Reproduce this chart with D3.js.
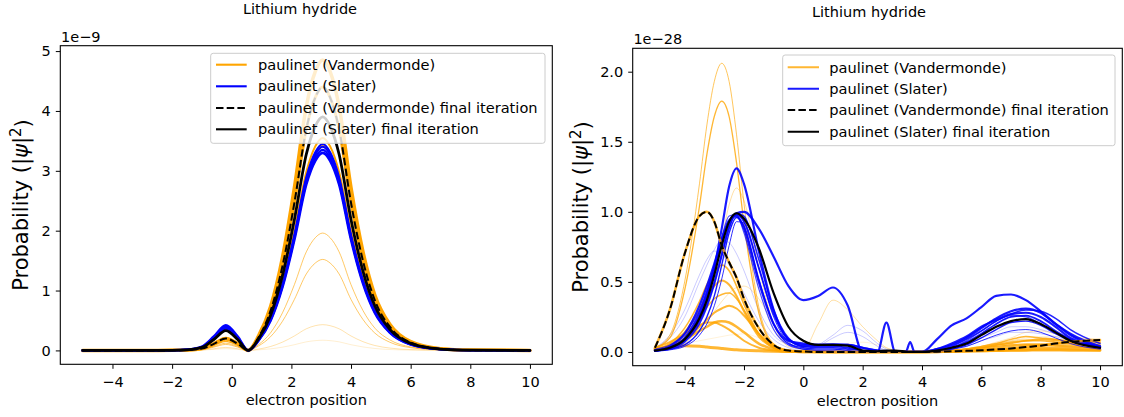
<!DOCTYPE html>
<html>
<head>
<meta charset="utf-8">
<script src="https://cdn.jsdelivr.net/npm/d3@7"></script>
<style>
body{margin:0;background:#fff;}
svg{display:block;font-family:"DejaVu Sans",sans-serif;}
</style>
</head>
<body>
<div id="chart"></div>
<script>
// ---- left panel data (values in units of 1e-9) ----
var xLeft = [-5, -3, -2, -1.5, -1, -0.6, -0.2, 0.2, 0.55, 0.9, 1.3, 1.7, 2.1, 2.5, 2.8, 3.05, 3.3, 3.6, 4.0, 4.4, 4.8, 5.3, 6, 7, 8, 10];

var leftVdm1 = [0,0,0,0.001,0.005,0.017,0.03,0.017,0,0.009,0.026,0.054,0.095,0.143,0.163,0.17,0.163,0.143,0.095,0.058,0.032,0.015,0.005,0.001,0,0];
var leftVdm2 = [0,0,0,0.002,0.008,0.028,0.05,0.028,0,0.022,0.065,0.138,0.241,0.361,0.413,0.43,0.413,0.361,0.241,0.146,0.082,0.039,0.013,0.003,0,0];
var leftVdm3 = [0,0,0,0.003,0.015,0.055,0.1,0.055,0,0.076,0.228,0.486,0.851,1.277,1.459,1.52,1.459,1.277,0.851,0.517,0.289,0.137,0.046,0.009,0.002,0];
var leftVdm4 = [0,0,0.001,0.004,0.018,0.066,0.12,0.066,0,0.098,0.294,0.627,1.098,1.646,1.882,1.96,1.882,1.646,1.098,0.666,0.372,0.176,0.059,0.012,0.002,0];
var leftVdm5 = [0,0,0.001,0.005,0.023,0.083,0.15,0.083,0,0.165,0.495,1.056,1.848,2.772,3.168,3.3,3.168,2.772,1.848,1.122,0.627,0.297,0.099,0.02,0.003,0];
var leftVdm6 = [0,0,0.001,0.005,0.027,0.099,0.18,0.099,0,0.171,0.513,1.094,1.915,2.873,3.283,3.42,3.283,2.873,1.915,1.163,0.65,0.308,0.103,0.021,0.003,0];
var leftVdm7 = [0,0,0.001,0.006,0.03,0.11,0.2,0.11,0,0.178,0.533,1.136,1.988,2.982,3.408,3.55,3.408,2.982,1.988,1.207,0.675,0.32,0.107,0.021,0.004,0];
var leftVdm8 = [0,0,0.001,0.006,0.03,0.11,0.2,0.11,0,0.243,0.728,1.552,2.716,4.074,4.656,4.85,4.656,4.074,2.716,1.649,0.922,0.437,0.146,0.029,0.005,0];
var leftVdmFinal = [0,0,0.001,0.006,0.03,0.11,0.2,0.11,0,0.22,0.66,1.408,2.464,3.696,4.224,4.4,4.224,3.696,2.464,1.496,0.836,0.396,0.132,0.026,0.004,0];
var leftSl1 = [0,0,0.002,0.013,0.063,0.231,0.42,0.231,0,0.165,0.495,1.056,1.848,2.772,3.168,3.3,3.168,2.772,1.848,1.122,0.627,0.297,0.099,0.02,0.003,0];
var leftSl2 = [0,0,0.002,0.011,0.057,0.209,0.38,0.209,0,0.168,0.503,1.072,1.876,2.814,3.216,3.35,3.216,2.814,1.876,1.139,0.637,0.302,0.101,0.02,0.003,0];
var leftSl3 = [0,0,0.002,0.012,0.06,0.22,0.4,0.22,0,0.17,0.51,1.088,1.904,2.856,3.264,3.4,3.264,2.856,1.904,1.156,0.646,0.306,0.102,0.02,0.003,0];
var leftSl4 = [0,0,0.002,0.011,0.054,0.198,0.36,0.198,0,0.173,0.518,1.104,1.932,2.898,3.312,3.45,3.312,2.898,1.932,1.173,0.656,0.311,0.104,0.021,0.003,0];
var leftSlFinal = [0,0,0.002,0.01,0.05,0.182,0.33,0.182,0,0.195,0.585,1.248,2.184,3.276,3.744,3.9,3.744,3.276,2.184,1.326,0.741,0.351,0.117,0.023,0.004,0];

// ---- right panel data (values in units of 1e-28) ----
var xRight = [-5,-4.5,-4,-3.5,-3.25,-3,-2.75,-2.5,-2.25,-2,-1.5,-1,-0.5,0,0.5,1,1.5,2,2.5,2.8,3.1,3.45,3.6,3.75,4,4.5,5,5.5,6,6.5,7,7.5,8,8.5,9,10];

var rightVdm1 = [0.03,0.12,0.5,1.2,1.62,1.93,2.06,1.93,1.55,1.06,0.32,0.06,0.01,0,0,0,0,0,0,0,0,0,0,0,0,0.005,0.01,0.02,0.03,0.04,0.05,0.06,0.06,0.06,0.06,0.05];
var rightVdm2 = [0.03,0.1,0.44,1.04,1.41,1.68,1.79,1.68,1.35,0.92,0.28,0.05,0.01,0,0,0,0,0,0,0,0,0,0,0,0,0.005,0.01,0.02,0.03,0.04,0.05,0.05,0.05,0.05,0.05,0.04];
var rightVdm3 = [0.01,0.02,0.06,0.2,0.35,0.55,0.8,1.05,1.17,1.08,0.6,0.2,0.04,0.02,0.2,0.37,0.3,0.18,0.08,0.03,0.01,0,0,0,0,0.005,0.01,0.02,0.04,0.06,0.08,0.09,0.09,0.08,0.07,0.06];
var rightVdm4 = [0.02,0.06,0.17,0.36,0.48,0.57,0.62,0.58,0.47,0.34,0.13,0.03,0.005,0,0,0,0,0,0,0,0,0,0,0,0,0.005,0.01,0.02,0.03,0.05,0.06,0.08,0.08,0.07,0.06,0.04];
var rightVdm5 = [0.02,0.05,0.14,0.3,0.4,0.47,0.51,0.48,0.4,0.29,0.11,0.03,0.005,0,0,0,0,0,0,0,0,0,0,0,0,0.003,0.008,0.012,0.02,0.03,0.04,0.05,0.05,0.045,0.04,0.03];
var rightVdm6 = [0.01,0.03,0.08,0.16,0.22,0.29,0.36,0.42,0.46,0.47,0.38,0.2,0.07,0.02,0.01,0.005,0,0,0,0,0,0,0,0,0,0.005,0.01,0.02,0.04,0.07,0.1,0.14,0.15,0.13,0.11,0.09];
var rightVdm7 = [0.02,0.04,0.12,0.25,0.32,0.38,0.41,0.42,0.38,0.3,0.13,0.04,0.01,0,0,0,0,0,0,0,0,0,0,0,0,0.005,0.01,0.02,0.04,0.06,0.09,0.11,0.1,0.09,0.07,0.05];
var rightVdm8 = [0.02,0.04,0.09,0.18,0.23,0.28,0.31,0.33,0.31,0.26,0.13,0.04,0.01,0,0,0,0,0,0,0,0,0,0,0,0,0.005,0.01,0.02,0.03,0.05,0.07,0.08,0.09,0.085,0.08,0.07];
var rightVdm9 = [0.02,0.04,0.09,0.15,0.18,0.21,0.22,0.21,0.18,0.14,0.06,0.02,0.005,0,0,0,0,0,0,0,0,0,0,0,0,0,0.005,0.008,0.01,0.015,0.02,0.025,0.03,0.03,0.03,0.02];
var rightVdm10 = [0.03,0.07,0.13,0.19,0.21,0.21,0.19,0.16,0.12,0.08,0.03,0.01,0,0,0,0,0,0,0,0,0,0,0,0,0,0,0.003,0.004,0.005,0.008,0.01,0.012,0.015,0.015,0.015,0.01];
var rightVdm11 = [0.02,0.035,0.045,0.04,0.035,0.03,0.025,0.02,0.015,0.012,0.008,0.005,0.003,0.002,0.001,0,0,0,0,0,0,0,0,0,0,0.002,0.004,0.006,0.008,0.01,0.012,0.013,0.014,0.014,0.013,0.012];
var rightVdm12 = [0.02,0.04,0.06,0.08,0.09,0.1,0.11,0.12,0.125,0.13,0.1,0.05,0.01,0,0,0.02,0.06,0.07,0.05,0.03,0.01,0,0,0,0,0.005,0.01,0.02,0.04,0.06,0.08,0.1,0.11,0.11,0.1,0.09];
var rightVdmFinal = [0.03,0.3,0.7,0.97,1.0,0.93,0.76,0.64,0.53,0.38,0.17,0.05,0.01,0.003,0,0,0,0,0,0,0,0,0,0,0,0.002,0.005,0.008,0.012,0.018,0.025,0.035,0.045,0.06,0.072,0.085];

var rightSl1 = [0.01,0.04,0.13,0.33,0.47,0.63,0.8,0.93,0.99,1.0,0.88,0.68,0.47,0.37,0.4,0.46,0.33,0,0,0.21,0,0,0.07,0,0,0.09,0.19,0.24,0.32,0.4,0.41,0.37,0.29,0.2,0.12,0.03];
var rightSl2 = [0.01,0.03,0.09,0.25,0.4,0.6,0.88,1.18,1.31,1.2,0.72,0.3,0.09,0.05,0.05,0.05,0.05,0.03,0.01,0,0,0,0,0,0,0.02,0.05,0.1,0.17,0.24,0.29,0.31,0.28,0.2,0.13,0.04];
var rightSl3 = [0.01,0.03,0.08,0.22,0.34,0.5,0.7,0.9,0.98,0.93,0.6,0.27,0.09,0.04,0.04,0.04,0.03,0.01,0,0,0,0,0,0,0,0.01,0.03,0.07,0.13,0.2,0.25,0.26,0.22,0.15,0.09,0.03];
var rightSl4 = [0.005,0.02,0.05,0.15,0.25,0.4,0.62,0.85,0.96,0.9,0.52,0.2,0.06,0.03,0.02,0.02,0.01,0,0,0,0,0,0,0,0,0,0.02,0.05,0.1,0.16,0.21,0.22,0.19,0.13,0.08,0.03];
var rightSl5 = [0.02,0.05,0.13,0.3,0.44,0.62,0.82,0.97,0.98,0.85,0.45,0.16,0.05,0.02,0.01,0.01,0,0,0,0,0,0,0,0,0,0,0.03,0.08,0.15,0.22,0.26,0.25,0.2,0.14,0.08,0.04];
var rightSl6 = [0.005,0.015,0.04,0.12,0.2,0.33,0.52,0.76,0.93,0.92,0.6,0.25,0.07,0.02,0.01,0,0,0,0,0,0,0,0,0,0,0,0.02,0.04,0.08,0.12,0.15,0.16,0.14,0.1,0.06,0.02];
var rightSl7 = [0.03,0.1,0.25,0.5,0.62,0.73,0.8,0.78,0.7,0.58,0.3,0.12,0.05,0.02,0.05,0.12,0.19,0.15,0.06,0.02,0,0,0,0,0,0.01,0.03,0.06,0.1,0.14,0.18,0.18,0.16,0.13,0.1,0.05];
var rightSl8 = [0.03,0.12,0.3,0.55,0.66,0.72,0.7,0.62,0.52,0.42,0.22,0.09,0.03,0.01,0.04,0.1,0.14,0.11,0.04,0.01,0,0,0,0,0,0.005,0.02,0.04,0.08,0.11,0.14,0.14,0.13,0.11,0.08,0.04];
var rightSl9 = [0.01,0.03,0.1,0.28,0.42,0.6,0.8,0.94,0.97,0.88,0.5,0.2,0.08,0.06,0.05,0.055,0.05,0.03,0.01,0.005,0.003,0,0,0,0,0.02,0.06,0.11,0.18,0.23,0.27,0.28,0.25,0.18,0.1,0.04];
var rightSl10 = [0.01,0.02,0.07,0.2,0.32,0.48,0.68,0.88,0.99,0.97,0.66,0.3,0.1,0.04,0.03,0.03,0.02,0.01,0,0,0,0,0,0,0,0.01,0.04,0.09,0.15,0.22,0.27,0.3,0.29,0.24,0.16,0.06];
var rightSlFinal = [0.01,0.03,0.09,0.24,0.37,0.55,0.76,0.93,0.99,0.95,0.74,0.42,0.18,0.08,0.05,0.05,0.045,0.01,0.005,0.01,0.01,0.003,0,0,0,0.01,0.03,0.06,0.12,0.18,0.22,0.235,0.2,0.14,0.08,0.03];

var xTicks = [-4, -2, 0, 2, 4, 6, 8, 10];
var leftYTicks = [0, 1, 2, 3, 4, 5];
var rightYTicks = [0, 0.5, 1.0, 1.5, 2.0];
var legendLabels = ["paulinet (Vandermonde)", "paulinet (Slater)", "paulinet (Vandermonde) final iteration", "paulinet (Slater) final iteration"];
var titleText = "Lithium hydride";
var xLabelText = "electron position";

var ORANGE = "#ffa500", BLUE = "#0000ff";

var svg = d3.select("#chart").append("svg")
    .attr("width", 1124)
    .attr("height", 417);

var panel = function(option) {
    var box = option.box;
    var g = svg.append("g");

    var x = d3.scaleLinear().domain([-5.75, 10.75]).range([box.left, box.right]);
    var y = d3.scaleLinear().domain(option.yDomain).range([box.bottom, box.top]);

    var line = d3.line()
        .curve(d3.curveMonotoneX)
        .x(function(d) { return x(d[0]); })
        .y(function(d) { return y(d[1]); });

    option.series.forEach(function(s) {
        g.append("path")
            .datum(option.xs.map(function(v, i) { return [v, s.values[i]]; }))
            .attr("fill", "none")
            .attr("stroke", s.color)
            .attr("stroke-opacity", s.alpha)
            .attr("stroke-width", s.width)
            .attr("stroke-dasharray", s.dash || null)
            .attr("stroke-linejoin", "round")
            .attr("stroke-linecap", s.dash ? "butt" : "round")
            .attr("d", line);
    });

    var styleAxis = function(a) {
        a.select(".domain").remove();
        a.selectAll(".tick line").attr("stroke", "#000").attr("stroke-width", 1);
        a.selectAll(".tick text")
            .attr("fill", "#000")
            .style("font-size", "14.5px")
            .style("font-family", "DejaVu Sans, sans-serif");
    };

    var xa = g.append("g")
        .attr("transform", "translate(0," + box.bottom + ")")
        .call(d3.axisBottom(x).tickValues(xTicks).tickFormat(d3.format("d")).tickSize(4.5).tickSizeOuter(0));
    styleAxis(xa);
    xa.selectAll(".tick text").attr("dy", null).attr("y", option.xTickY);

    var ya = g.append("g")
        .attr("transform", "translate(" + box.left + ",0)")
        .call(d3.axisLeft(y).tickValues(option.yTicks).tickFormat(option.yFormat).tickSize(4.5).tickPadding(5).tickSizeOuter(0));
    styleAxis(ya);

    g.append("rect")
        .attr("x", box.left).attr("y", box.top)
        .attr("width", box.right - box.left).attr("height", box.bottom - box.top)
        .attr("fill", "none").attr("stroke", "#000").attr("stroke-width", 1.1);

    // scale factor text
    g.append("text")
        .attr("x", box.left + 0.7).attr("y", box.top - 4)
        .style("font-size", "14.5px")
        .text(option.offsetText);

    g.append("text")
        .attr("x", option.titleX).attr("y", option.titleY)
        .attr("text-anchor", "middle")
        .style("font-size", "14.5px")
        .text(titleText);

    g.append("text")
        .attr("x", (box.left + box.right) / 2).attr("y", option.xLabelY)
        .attr("text-anchor", "middle")
        .style("font-size", "14.5px")
        .text(xLabelText);

    var yl = g.append("text")
        .attr("transform", "translate(" + option.yLabelX + "," + (box.top + box.bottom) / 2 + ") rotate(-90)")
        .attr("text-anchor", "middle")
        .style("font-size", "21px");
    yl.append("tspan").text("Probability (|");
    yl.append("tspan").style("font-style", "italic").text("ψ");
    yl.append("tspan").text("|");
    yl.append("tspan").attr("dy", "-0.45em").style("font-size", "15px").text("2");
    yl.append("tspan").attr("dy", "0.45em").text(")");

    // legend
    var lg = option.legend;
    var leg = g.append("g").attr("transform", "translate(" + lg.x + "," + lg.y + ")");
    leg.append("rect")
        .attr("width", lg.w).attr("height", lg.h)
        .attr("rx", 2.5)
        .attr("fill", "#fff").attr("fill-opacity", 0.8)
        .attr("stroke", "#cccccc").attr("stroke-width", 1);
    var handles = [
        {color: ORANGE, alpha: lg.orangeAlpha, dash: null},
        {color: BLUE, alpha: lg.blueAlpha, dash: null},
        {color: "#000", alpha: 1, dash: "7.5,3.2"},
        {color: "#000", alpha: 1, dash: null}
    ];
    legendLabels.forEach(function(label, i) {
        var ry = lg.rows[i];
        leg.append("line")
            .attr("x1", lg.hx0).attr("x2", lg.hx1)
            .attr("y1", ry).attr("y2", ry)
            .attr("stroke", handles[i].color)
            .attr("stroke-opacity", handles[i].alpha)
            .attr("stroke-width", 2.1)
            .attr("stroke-dasharray", handles[i].dash);
        leg.append("text")
            .attr("x", lg.tx).attr("y", ry + 5.2)
            .style("font-size", "14.6px")
            .text(label);
    });
};

var s = function(values, color, width, alpha, dash) {
    return {values: values, color: color, width: width, alpha: alpha, dash: dash};
};

panel({
    xs: xLeft,
    box: {left: 60.3, right: 552.3, top: 45.7, bottom: 364.3},
    yDomain: [-0.232, 5.09],
    yTicks: leftYTicks,
    yFormat: d3.format("d"),
    offsetText: "1e\u22129",
    titleX: 300, titleY: 13.5,
    xLabelY: 404.5, yLabelX: 27.5, xTickY: 22.5,
    series: [
        s(leftVdm1, ORANGE, 0.6, 0.3),
        s(leftVdm2, ORANGE, 0.7, 0.45),
        s(leftVdm3, ORANGE, 0.8, 0.75),
        s(leftVdm4, ORANGE, 0.8, 0.75),
        s(leftVdm5, ORANGE, 1.2, 0.9),
        s(leftVdm6, ORANGE, 1.5, 1),
        s(leftVdm7, ORANGE, 2, 1),
        s(leftVdm8, ORANGE, 3.5, 1),
        s(leftVdmFinal, ORANGE, 3, 1),
        s(leftSl4, BLUE, 2, 1),
        s(leftSl3, BLUE, 2, 1),
        s(leftSl2, BLUE, 2.2, 1),
        s(leftSl1, BLUE, 2.6, 1),
        s(leftVdmFinal, "#000", 2, 1, "7.5,3.2"),
        s(leftSlFinal, "#000", 2.8, 1)
    ],
    legend: {x: 210.7, y: 53.3, w: 334.3, h: 90, rows: [11.4, 33, 54.7, 76], hx0: 5.3, hx1: 36, tx: 47.3, orangeAlpha: 1, blueAlpha: 1}
});

panel({
    xs: xRight,
    box: {left: 632.7, right: 1122.3, top: 48.3, bottom: 365.7},
    yDomain: [-0.098, 2.167],
    yTicks: rightYTicks,
    yFormat: d3.format(".1f"),
    offsetText: "1e\u221228",
    titleX: 869, titleY: 16.5,
    xLabelY: 406, yLabelX: 587.5, xTickY: 21.8,
    series: [
        s(rightVdm12, ORANGE, 0.6, 0.25),
        s(rightSl7, BLUE, 0.7, 0.3),
        s(rightSl8, BLUE, 0.7, 0.3),
        s(rightVdm6, ORANGE, 0.7, 0.4),
        s(rightVdm3, ORANGE, 0.7, 0.5),
        s(rightVdm1, ORANGE, 0.8, 0.8),
        s(rightVdm2, ORANGE, 1.3, 0.8),
        s(rightVdm4, ORANGE, 1.6, 0.8),
        s(rightVdm5, ORANGE, 2, 0.8),
        s(rightVdm7, ORANGE, 1.5, 0.8),
        s(rightVdm8, ORANGE, 2, 0.8),
        s(rightVdm9, ORANGE, 2.5, 0.8),
        s(rightVdm10, ORANGE, 2, 0.8),
        s(rightVdm11, ORANGE, 3, 0.8),
        s(rightSl6, BLUE, 1, 0.8),
        s(rightSl5, BLUE, 1.2, 0.7),
        s(rightSl4, BLUE, 1.4, 0.9),
        s(rightSl10, BLUE, 1.5, 0.85),
        s(rightSl3, BLUE, 1.8, 0.9),
        s(rightSl9, BLUE, 2.2, 0.9),
        s(rightSl2, BLUE, 2.2, 0.9),
        s(rightSl1, BLUE, 2.2, 0.9),
        s(rightVdmFinal, ORANGE, 2.5, 0.8),
        s(rightVdmFinal, "#000", 2, 1, "7.5,3.2"),
        s(rightSlFinal, "#000", 2.2, 1)
    ],
    legend: {x: 782.7, y: 55, w: 332.3, h: 90.7, rows: [12.3, 33.7, 55, 76.7], hx0: 5, hx1: 36.3, tx: 46.6, orangeAlpha: 0.8, blueAlpha: 0.9}
});
</script>
</body>
</html>
